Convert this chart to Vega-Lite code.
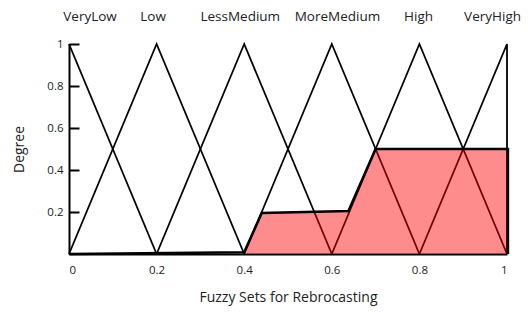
{
  "$schema": "https://vega.github.io/schema/vega-lite/v6.json",
  "width": 438,
  "height": 210,
  "autosize": "none",
  "padding": {"left": 69, "top": 44, "right": 21, "bottom": 62},
  "background": "white",
  "config": {
    "view": {"stroke": null},
    "font": "Open Sans",
    "axis": {"grid": false, "domainColor": "black", "labelColor": "#222", "titleColor": "#222", "titleFontWeight": "normal"}
  },
  "datasets": {
    "sets": [
      {"set": "VeryLow", "x": 0, "y": 1, "k": 1},
      {"set": "VeryLow", "x": 0.2, "y": 0, "k": 2},
      {"set": "Low", "x": 0, "y": 0, "k": 1},
      {"set": "Low", "x": 0.2, "y": 1, "k": 2},
      {"set": "Low", "x": 0.4, "y": 0, "k": 3},
      {"set": "LessMedium", "x": 0.2, "y": 0, "k": 1},
      {"set": "LessMedium", "x": 0.4, "y": 1, "k": 2},
      {"set": "LessMedium", "x": 0.6, "y": 0, "k": 3},
      {"set": "MoreMedium", "x": 0.4, "y": 0, "k": 1},
      {"set": "MoreMedium", "x": 0.6, "y": 1, "k": 2},
      {"set": "MoreMedium", "x": 0.8, "y": 0, "k": 3},
      {"set": "High", "x": 0.6, "y": 0, "k": 1},
      {"set": "High", "x": 0.8, "y": 1, "k": 2},
      {"set": "High", "x": 1, "y": 0, "k": 3},
      {"set": "VeryHigh", "x": 0.8, "y": 0, "k": 1},
      {"set": "VeryHigh", "x": 1, "y": 1, "k": 2},
      {"set": "VeryHigh", "x": 1, "y": 0, "k": 3}
    ],
    "agg": [
      {"x": 0, "y": 0, "k": 1},
      {"x": 0.4, "y": 0.008, "k": 2},
      {"x": 0.44, "y": 0.195, "k": 3},
      {"x": 0.638, "y": 0.205, "k": 4},
      {"x": 0.7, "y": 0.5, "k": 5},
      {"x": 1.002, "y": 0.5, "k": 6},
      {"x": 1.002, "y": 0, "k": 7}
    ],
    "fill": [
      {"x": 0.4, "y": 0},
      {"x": 0.44, "y": 0.195},
      {"x": 0.638, "y": 0.205},
      {"x": 0.7, "y": 0.5},
      {"x": 1.002, "y": 0.5}
    ],
    "labels": [
      {"label": "VeryLow", "x": 0.048, "y": 1.13},
      {"label": "Low", "x": 0.192, "y": 1.13},
      {"label": "LessMedium", "x": 0.391, "y": 1.13},
      {"label": "MoreMedium", "x": 0.613, "y": 1.13},
      {"label": "High", "x": 0.798, "y": 1.13},
      {"label": "VeryHigh", "x": 0.967, "y": 1.13}
    ]
  },
  "layer": [
    {
      "data": {"name": "sets"},
      "mark": {"type": "line", "color": "black", "strokeWidth": 1.8},
      "encoding": {
        "x": {
          "field": "x", "type": "quantitative",
          "scale": {"domain": [0, 1], "nice": false},
          "axis": {
            "values": [0, 0.2, 0.4, 0.6, 0.8, 1], "format": "~g",
            "ticks": false, "domainWidth": 2, "labelPadding": 10, "labelFontSize": 11.5,
            "title": "Fuzzy Sets for Rebrocasting", "titleFontSize": 14, "titlePadding": 15
          }
        },
        "y": {
          "field": "y", "type": "quantitative",
          "scale": {"domain": [0, 1], "nice": false},
          "axis": {
            "values": [0.2, 0.4, 0.6, 0.8, 1], "format": "~g",
            "tickSize": -10, "tickWidth": 2, "tickColor": "black", "domainWidth": 2,
            "labelPadding": 16, "labelFontSize": 11.5,
            "title": "Degree", "titleFontSize": 14, "titlePadding": 20
          }
        },
        "detail": {"field": "set"},
        "order": {"field": "k"}
      }
    },
    {
      "data": {"name": "fill"},
      "mark": {"type": "area", "color": "red", "opacity": 0.45},
      "encoding": {
        "x": {"field": "x", "type": "quantitative"},
        "y": {"field": "y", "type": "quantitative"}
      }
    },
    {
      "data": {"name": "agg"},
      "mark": {"type": "line", "color": "black", "strokeWidth": 2.6},
      "encoding": {
        "x": {"field": "x", "type": "quantitative"},
        "y": {"field": "y", "type": "quantitative"},
        "order": {"field": "k"}
      }
    },
    {
      "data": {"name": "labels"},
      "mark": {"type": "text", "fontSize": 13.5, "color": "#222", "baseline": "middle"},
      "encoding": {
        "x": {"field": "x", "type": "quantitative"},
        "y": {"field": "y", "type": "quantitative"},
        "text": {"field": "label"}
      }
    }
  ]
}
